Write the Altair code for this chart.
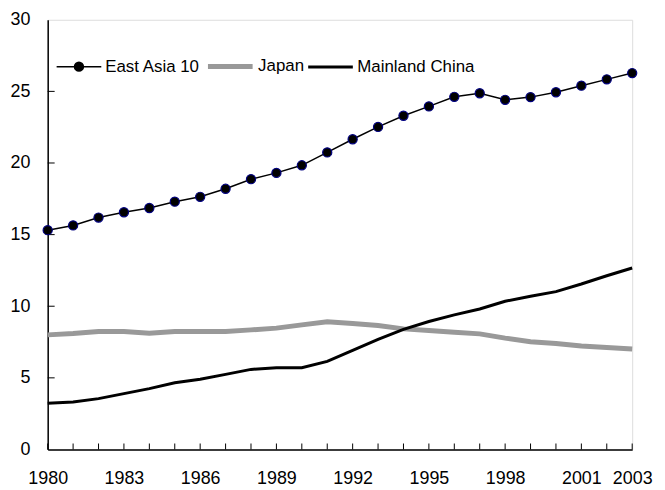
import altair as alt
import pandas as pd

years = list(range(1980, 2004))
east_asia_10 = [15.31, 15.64, 16.19, 16.56, 16.86, 17.30, 17.64, 18.20, 18.87, 19.31, 19.84, 20.74,
                21.66, 22.52, 23.30, 23.95, 24.62, 24.87, 24.41, 24.60, 24.94, 25.40, 25.84, 26.28]
japan = [8.00, 8.10, 8.24, 8.24, 8.12, 8.24, 8.24, 8.24, 8.35, 8.47, 8.70, 8.91,
         8.79, 8.65, 8.42, 8.31, 8.19, 8.07, 7.77, 7.52, 7.40, 7.22, 7.12, 7.01]
china = [3.22, 3.32, 3.55, 3.90, 4.25, 4.66, 4.90, 5.24, 5.59, 5.71, 5.71, 6.15,
         6.91, 7.68, 8.38, 8.93, 9.40, 9.81, 10.35, 10.70, 11.02, 11.55, 12.13, 12.67]
series_names = ["East Asia 10", "Japan", "Mainland China"]
label_years = [1980, 1983, 1986, 1989, 1992, 1995, 1998, 2001, 2003]
y_ticks = [0, 5, 10, 15, 20, 25, 30]

rows = []
for name, vals in [("Japan", japan), ("Mainland China", china), ("East Asia 10", east_asia_10)]:
    for yr, v in zip(years, vals):
        rows.append({"year": yr, "value": v, "series": name})
df = pd.DataFrame(rows)
xtick_df = pd.DataFrame({"year": years})
ytick_df = pd.DataFrame({"value": y_ticks[1:-1]})

FONT = "Liberation Sans"
label_list = ",".join(str(v) for v in label_years)

x_enc = alt.X(
    "year:Q",
    scale=alt.Scale(domain=[1980, 2003], nice=False, zero=False),
    axis=alt.Axis(
        title=None, values=years, format="d", grid=False, ticks=False, tickSize=0,
        labelExpr=f"indexof([{label_list}], datum.value) >= 0 ? datum.label : ''",
        labelFlush=False, labelOverlap=False, labelPadding=20,
        labelFont=FONT, labelFontSize=18, labelColor="black",
        domainColor="black", domainWidth=1.5,
    ),
)
y_enc = alt.Y(
    "value:Q",
    scale=alt.Scale(domain=[0, 30], nice=False),
    axis=alt.Axis(
        title=None, values=y_ticks, grid=False, ticks=False, tickSize=0, labelPadding=18,
        labelFont=FONT, labelFontSize=18, labelColor="black",
        domainColor="black", domainWidth=1.5,
    ),
)


def make_legend():
    return alt.Legend(
        title=None, orient="none", direction="horizontal", legendX=8, legendY=22,
        labelFont=FONT, labelFontSize=17, labelColor="black",
        labelOffset=3, columnPadding=-3, symbolSize=2025, padding=0,
        symbolFillColor="black", symbolOpacity=1,
    )


ea_symbol = ("M-1,0H1"
             "M0.2,0A0.2,0.2,0,1,1,-0.2,0A0.2,0.2,0,1,1,0.2,0Z"
             "M0.15,0A0.15,0.15,0,1,1,-0.15,0A0.15,0.15,0,1,1,0.15,0Z"
             "M0.1,0A0.1,0.1,0,1,1,-0.1,0A0.1,0.1,0,1,1,0.1,0Z"
             "M0.05,0A0.05,0.05,0,1,1,-0.05,0A0.05,0.05,0,1,1,0.05,0Z")

lines = alt.Chart(df).mark_line().encode(
    x=x_enc,
    y=y_enc,
    color=alt.Color("series:N", scale=alt.Scale(domain=series_names, range=["black", "#999999", "black"]),
                    legend=make_legend()),
    strokeWidth=alt.StrokeWidth("series:N",
                                scale=alt.Scale(type="ordinal", domain=series_names, range=[1.5, 5, 3]),
                                legend=make_legend()),
    detail="series:N",
)

legend_shapes = alt.Chart(df).transform_filter("false").mark_point().encode(
    x=x_enc,
    y=y_enc,
    shape=alt.Shape("series:N", scale=alt.Scale(domain=series_names, range=[ea_symbol, "stroke", "stroke"]),
                    legend=make_legend()),
)

points = alt.Chart(df).transform_filter(alt.datum.series == "East Asia 10").mark_point(
    filled=True, fill="black", stroke="#000080", strokeWidth=1.2, size=85, opacity=1
).encode(x=x_enc, y=y_enc)

xticks = alt.Chart(xtick_df).mark_rule(color="black", strokeWidth=1).encode(
    x=x_enc, y=alt.value(433), y2=alt.value(427)
)
yticks = alt.Chart(ytick_df).mark_rule(color="black", strokeWidth=1).encode(
    y=y_enc, x=alt.value(0), x2=alt.value(7)
)

chart = alt.layer(xticks, yticks, lines, legend_shapes, points).properties(
    width=589, height=433,
    autosize=alt.AutoSizeParams(type="none"),
    padding={"left": 40, "top": 10, "right": 25, "bottom": 40},
).configure_view(stroke="black", strokeWidth=1.2).configure(background="white")

chart.save("out.html", embed_options={"renderer": "svg", "actions": False})
